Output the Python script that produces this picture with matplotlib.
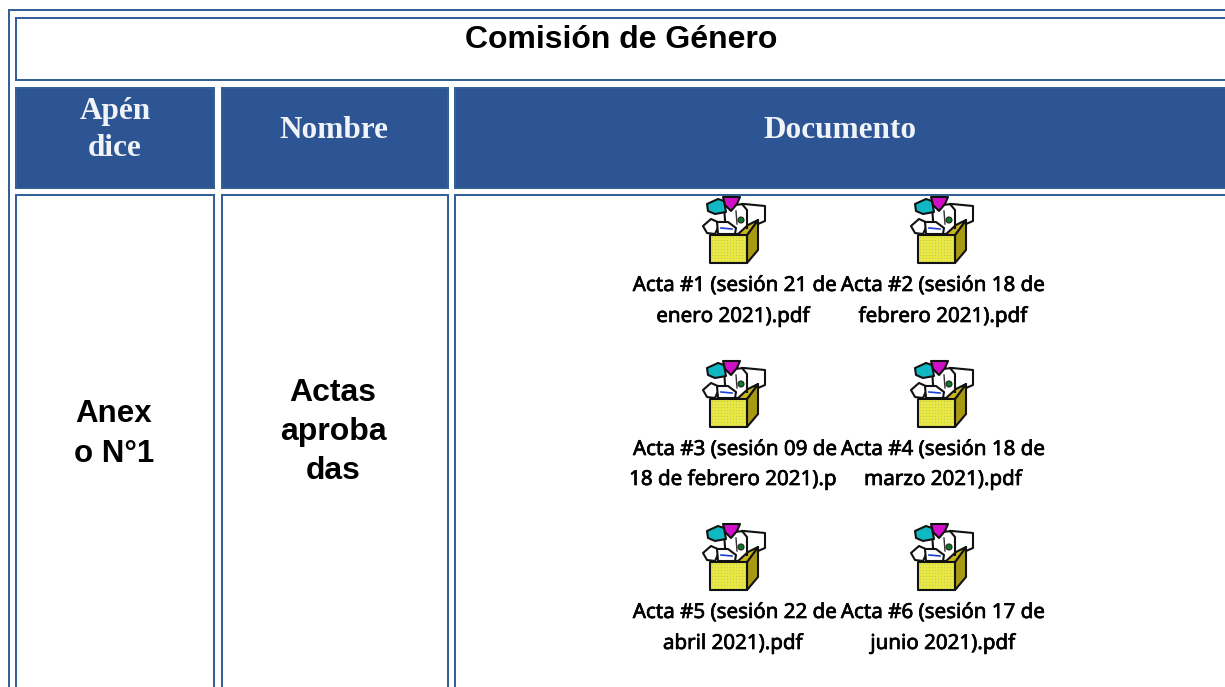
import matplotlib
matplotlib.use('Agg')
import matplotlib.pyplot as plt
import matplotlib.patheffects as pe
from matplotlib.patches import Rectangle, Polygon, Circle

# Texts of the table
TITLE = 'Comisión de Género'
HEADERS = ['Apén\ndice', 'Nombre', 'Documento']
ANNEX = 'Anex\no N°1'
NAME = 'Actas\naproba\ndas'
DOC_LEFT = [('Acta #1 (sesión 21 de', 'enero 2021).pdf'),
            ('Acta #3 (sesión 09 de', '18 de febrero 2021).p'),
            ('Acta #5 (sesión 22 de', 'abril 2021).pdf')]
DOC_RIGHT = [('Acta #2 (sesión 18 de', 'febrero 2021).pdf'),
             ('Acta #4 (sesión 18 de', 'marzo 2021).pdf'),
             ('Acta #6 (sesión 17 de', 'junio 2021).pdf')]

# Colours
BORDER = '#336195'
HEAD_FILL = '#2E5593'
W, H = 1225, 687

fig = plt.figure(figsize=(W / 100, H / 100), dpi=100)
ax = fig.add_axes([0, 0, 1, 1])
ax.set_xlim(0, W)
ax.set_ylim(H, 0)
ax.axis('off')


def frame(x0, y0, x1, y1, lw=2, fill='white'):
    ax.add_patch(Rectangle((x0, y0), x1 - x0, y1 - y0, fc=BORDER, ec='none', antialiased=False))
    ax.add_patch(Rectangle((x0 + lw, y0 + lw), x1 - x0 - 2 * lw, y1 - y0 - 2 * lw,
                           fc=fill, ec='none', antialiased=False))


def draw_icon(ox, oy):
    # package icon, local pixel shapes
    def pts(lst):
        return [(ox + a, oy + b) for a, b in lst]

    ink = dict(ec='#111111', lw=1.5, joinstyle='round')
    # papers coming out of the box
    ax.add_patch(Polygon(pts([(24, 16), (44, 14), (65, 16), (65, 31), (58, 34), (52, 44), (26, 44)]), fc='white', **ink))
    ax.add_patch(Polygon(pts([(7, 14), (18, 9), (24, 11), (26, 22), (15, 24), (8, 21)]), fc='#10B8C4', **ink))
    ax.add_patch(Polygon(pts([(23, 7), (40, 7), (37, 14), (31, 21), (25, 15)]), fc='#D010C8', **ink))
    ax.add_patch(Circle((ox + 41, oy + 30), 3, fc='#0A7A2A', ec='#222222', lw=0.8))
    ax.plot([ox + 42, ox + 47, ox + 47], [oy + 14, oy + 20, oy + 38], color='#111111', lw=1.5)
    ax.plot([ox + 36, ox + 37], [oy + 21, oy + 34], color='#333333', lw=1.0)
    ax.add_patch(Polygon(pts([(3, 36), (11, 29), (20, 33), (15, 44), (7, 43)]), fc='white', **ink))
    ax.add_patch(Polygon(pts([(17, 32), (28, 32), (36, 38), (35, 44), (18, 44)]), fc='white', **ink))
    ax.plot([ox + 21, ox + 32], [oy + 38, oy + 39], color='#2040D0', lw=1.2)
    # box
    ax.add_patch(Polygon(pts([(47, 45), (58, 30), (58, 60), (47, 73)]), fc='#A89A10', **ink))
    ax.add_patch(Polygon(pts([(37, 45), (47, 45), (58, 30), (48, 35)]), fc='#C8B820', **ink))
    ax.add_patch(Rectangle((ox + 10, oy + 45), 37, 28, fc='#E8E840', **ink))
    for i in range(12):
        for j in range(9):
            ax.add_patch(Rectangle((ox + 11.5 + i * 3, oy + 46.5 + j * 3), 1.4, 1.4,
                                   fc='#C4C46A', ec='none'))


# Outer table border
frame(8, 9, W + 5, H + 5)

# Title cell
frame(15, 17, W + 5, 81)
ax.text(621, 40, TITLE, ha='center', va='center', family='Liberation Sans',
        fontweight='bold', fontsize=23, color='black')

# Header cells
head_x = [(15, 215), (221, 449), (454, W + 5)]
head_cx = [115, 334, 840]
for (x0, x1), cx, label in zip(head_x, head_cx, HEADERS):
    frame(x0, 87, x1, 189, lw=2, fill=HEAD_FILL)
    ax.text(cx, 130, label, ha='center', va='center', family='Liberation Serif',
            fontweight='bold', fontsize=22.5, color='#F0F3F8', linespacing=1.38)

# Body cells
for x0, x1 in head_x:
    frame(x0, 194, x1, H + 5)
ax.text(114, 434, ANNEX, ha='center', va='center', family='Liberation Sans',
        fontweight='bold', fontsize=22.5, color='black', linespacing=1.42)
ax.text(333, 432, NAME, ha='center', va='center', family='Liberation Sans',
        fontweight='bold', fontsize=23, color='black', linespacing=1.4)

# Documents grid
row_y = [190, 354, 517]
line_y = [(286, 317), (450, 480), (613, 644)]
for col, (icon_x, text_x, docs) in enumerate([(700, 735, DOC_LEFT), (908, 943, DOC_RIGHT)]):
    for (lines, oy, ly) in zip(docs, row_y, line_y):
        draw_icon(icon_x, oy)
        cx2 = text_x - 2 if col == 0 else text_x
        for txt, y, cx in zip(lines, ly, (text_x, cx2)):
            ax.text(cx, y, txt, ha='center', va='center', family='Noto Sans',
                    fontsize=14.8, color='black',
                    path_effects=[pe.withStroke(linewidth=0.5, foreground='black')])

fig.savefig('out.png', dpi=100)
